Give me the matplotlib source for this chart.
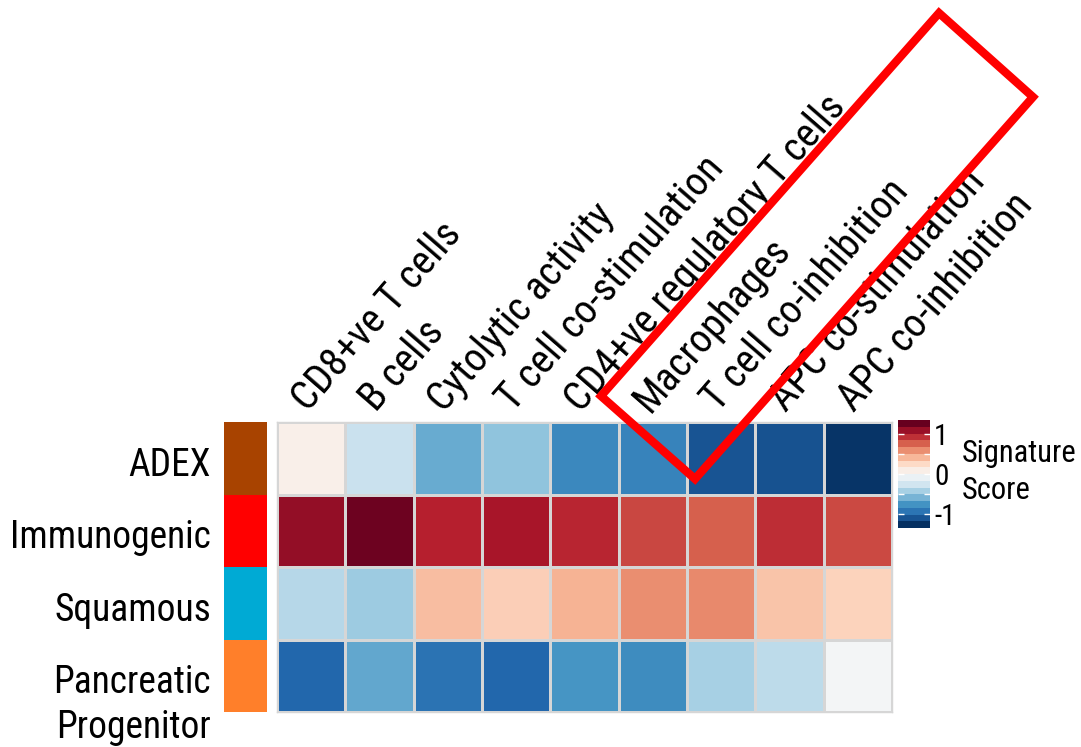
import matplotlib
matplotlib.use('Agg')
import matplotlib as mpl
import matplotlib.pyplot as plt
import numpy as np
from matplotlib.colors import Normalize
from matplotlib.patches import Polygon
from matplotlib.transforms import blended_transform_factory

plt.rcParams['font.family'] = ['Roboto Condensed', 'Liberation Sans', 'DejaVu Sans']
plt.rcParams['axes.unicode_minus'] = False

signatures = ['CD8+ve T cells', 'B cells', 'Cytolytic activity', 'T cell co-stimulation',
              'CD4+ve regulatory T cells', 'Macrophages', 'T cell co-inhibition',
              'APC co-stimulation', 'APC co-inhibition']
subtypes = ['ADEX', 'Immunogenic', 'Squamous', 'Pancreatic\nProgenitor']
subtype_colors = ['#A84300', '#FF0000', '#00AAD4', '#FF7F2A']

# mean signature scores per subtype
adex = [0.08, -0.30, -0.68, -0.54, -0.87, -0.90, -1.17, -1.18, -1.32]
immunogenic = [1.19, 1.32, 1.05, 1.11, 1.03, 0.90, 0.81, 1.00, 0.89]
squamous = [-0.38, -0.49, 0.42, 0.33, 0.47, 0.63, 0.65, 0.39, 0.31]
progenitor = [-1.07, -0.70, -1.00, -1.07, -0.80, -0.85, -0.45, -0.35, -0.03]

cb_ticks = [-1, 0, 1]
vlim = 1.35

scores = np.array([adex, immunogenic, squamous, progenitor])

W, H = 1081, 747
fig = plt.figure(figsize=(W / 100, H / 100), dpi=100)


def box(x0, y0, x1, y1):
    return [x0 / W, 1 - y1 / H, (x1 - x0) / W, (y1 - y0) / H]


# main heatmap
ax = fig.add_axes(box(277, 422, 892, 712))
ax.pcolormesh(scores, cmap='RdBu_r', vmin=-vlim, vmax=vlim,
              edgecolors='#d6d6d6', linewidth=1)
ax.set_xlim(0, len(signatures))
ax.set_ylim(len(subtypes), 0)
ax.set_xticks([])
ax.set_yticks([])
for s in ax.spines.values():
    s.set_color('#d6d6d6')
    s.set_linewidth(1)

for j, name in enumerate(signatures):
    ax.text(j + 0.45, -0.12, name, rotation=49, rotation_mode='anchor',
            ha='left', va='baseline', fontsize=29)

# subtype annotation bar
ax_ann = fig.add_axes(box(224, 422, 267, 712))
ax_ann.barh(np.arange(len(subtypes)) + 0.5, 1, height=1, color=subtype_colors)
ax_ann.set_xlim(0, 1)
ax_ann.set_ylim(len(subtypes), 0)
ax_ann.axis('off')
tr = blended_transform_factory(ax_ann.transAxes, ax_ann.transData)
for i, name in enumerate(subtypes):
    extra = name.count('\n')
    ax_ann.text(-0.30, i + 0.74 + extra * 0.62, name, transform=tr, ha='right',
                va='baseline', fontsize=27, linespacing=1.28)

# stepped colour key
cax = fig.add_axes(box(898, 420, 930, 528))
cmap16 = plt.get_cmap('RdBu_r', 16)
cb = mpl.colorbar.ColorbarBase(cax, cmap=cmap16, norm=Normalize(-vlim, vlim),
                               ticks=cb_ticks)
cb.outline.set_visible(False)
cax.yaxis.set_ticks([-0.5, 0.5], minor=True)
cax.tick_params(which='both', direction='in', color='white', length=4, width=1,
                left=True, right=True, labelsize=21, pad=3)
cax.text(2.0, 0.52, 'Signature\nScore', transform=cax.transAxes, ha='left',
         va='center', fontsize=22, linespacing=1.35)

# highlight box
corners = np.array([(939, 13), (1033, 97), (695, 479), (601, 396)], dtype=float)
corners[:, 0] /= W
corners[:, 1] = 1 - corners[:, 1] / H
fig.patches.append(Polygon(corners, closed=True, fill=False, edgecolor='#ff0000',
                           linewidth=6, joinstyle='miter', transform=fig.transFigure))

fig.savefig('out.png', dpi=100)
